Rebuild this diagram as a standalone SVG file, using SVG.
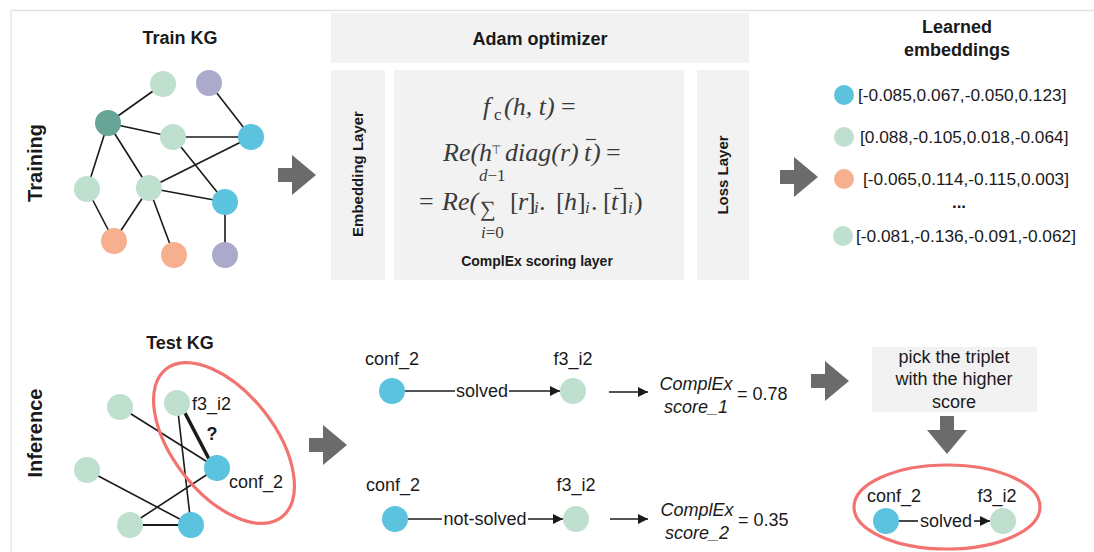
<svg xmlns="http://www.w3.org/2000/svg" width="1094" height="552" viewBox="0 0 1094 552">
  <style>
    .t { font-family: "Liberation Sans", Arial, sans-serif; fill: #1a1a1a; }
    .b { font-weight: bold; }
    .m { font-family: "Liberation Serif", "Times New Roman", serif; font-style: italic; fill: #3a3a3a; font-size: 26px; }
    .mu { font-family: "Liberation Serif", "Times New Roman", serif; fill: #3a3a3a; font-size: 26px; }
    .ms { font-size: 17px; }
    .bar { stroke: #3a3a3a; stroke-width: 1.2; }
    .panel { fill: #f2f2f2; }
    .edge { stroke: #1a1a1a; stroke-width: 1.6; fill: none; }
    .lg { fill: #bfe0cf; }
    .bl { fill: #5bc3de; }
    .dg { fill: #67a597; }
    .pu { fill: #aba9cc; }
    .or { fill: #f6b08f; }
    .big { fill: #6b6b6b; }
    .ring { fill: none; stroke: #f27471; stroke-width: 3.2; }
  </style>
  <defs>
    <marker id="ah" viewBox="0 0 10 10" refX="10" refY="5" markerWidth="10" markerHeight="10" markerUnits="userSpaceOnUse" orient="auto">
      <path d="M0,0 L10,5 L0,10 z" fill="#1a1a1a"/>
    </marker>
    <path id="bigArrow" d="M0,-7 L14,-7 L14,-20 L38,0 L14,20 L14,7 L0,7 z"/>
  </defs>

  <rect width="1094" height="552" fill="#ffffff"/>
  <!-- frame -->
  <line x1="10" y1="10.5" x2="1094" y2="10.5" stroke="#e2e2e2" stroke-width="1.5"/>
  <line x1="11" y1="10" x2="11" y2="552" stroke="#eeeeee" stroke-width="2"/>

  <!-- row labels -->
  <text class="t b" font-size="20" text-anchor="middle" transform="translate(42,163) rotate(-90)">Training</text>
  <text class="t b" font-size="20" text-anchor="middle" transform="translate(42,433) rotate(-90)">Inference</text>

  <!-- ===== training knowledge graph ===== -->
  <g id="train-kg">
    <text class="t b" font-size="18" x="180" y="44" text-anchor="middle">Train KG</text>
    <g class="edge">
      <line x1="108" y1="123" x2="163" y2="84"/>
      <line x1="108" y1="123" x2="173" y2="137"/>
      <line x1="108" y1="123" x2="87" y2="189"/>
      <line x1="108" y1="123" x2="149" y2="188"/>
      <line x1="173" y1="137" x2="251" y2="137"/>
      <line x1="209" y1="83" x2="251" y2="137"/>
      <line x1="173" y1="137" x2="225" y2="202"/>
      <line x1="251" y1="137" x2="149" y2="188"/>
      <line x1="149" y1="188" x2="225" y2="202"/>
      <line x1="87" y1="189" x2="114" y2="241"/>
      <line x1="149" y1="188" x2="114" y2="241"/>
      <line x1="149" y1="188" x2="174" y2="255"/>
      <line x1="225" y1="202" x2="225" y2="255"/>
    </g>
    <circle class="lg" cx="163" cy="84" r="13"/>
    <circle class="pu" cx="209" cy="83" r="13"/>
    <circle class="dg" cx="108" cy="123" r="13"/>
    <circle class="lg" cx="173" cy="137" r="13"/>
    <circle class="bl" cx="251" cy="137" r="13"/>
    <circle class="lg" cx="87" cy="189" r="13"/>
    <circle class="lg" cx="149" cy="188" r="13"/>
    <circle class="bl" cx="225" cy="202" r="13"/>
    <circle class="or" cx="114" cy="241" r="13"/>
    <circle class="or" cx="174" cy="255" r="13"/>
    <circle class="pu" cx="225" cy="255" r="13"/>
  </g>

  <!-- ===== model ===== -->
  <g id="optimizer">
    <rect class="panel" x="331" y="13" width="418" height="50"/>
    <text class="t b" font-size="18" x="540" y="45" text-anchor="middle">Adam optimizer</text>
  </g>
  <g id="embedding-layer">
    <rect class="panel" x="331" y="70" width="54" height="210"/>
    <text class="t b" font-size="15" text-anchor="middle" transform="translate(363,174) rotate(-90)">Embedding Layer</text>
  </g>
  <g id="scoring-layer">
    <rect class="panel" x="394" y="70" width="290" height="210"/>
    <!-- f_c(h,t) = -->
    <text class="m" x="483" y="115">f</text>
    <text class="mu ms" x="494" y="120">c</text>
    <text class="m" x="504" y="115">(h, t)</text>
    <text class="mu" x="561" y="115">=</text>
    <!-- Re(h^T diag(r) conj(t)) = -->
    <text class="m" x="443" y="161">Re(h</text>
    <text class="mu" style="font-size:12px" x="491" y="154">⊤</text>
    <text class="m" x="505" y="161">diag(r)</text>
    <text class="m" x="584" y="161">t</text>
    <line class="bar" x1="586" y1="139.5" x2="596" y2="139.5"/>
    <text class="m" x="592" y="161">)</text>
    <text class="mu" x="606" y="161">=</text>
    <text class="m ms" x="479" y="181">d<tspan font-style="normal">−1</tspan></text>
    <!-- = Re(sum [r]_i . [h]_i . [conj t]_i) -->
    <text class="mu" x="419" y="210">=</text>
    <text class="m" x="442" y="210">Re(</text>
    <text class="mu" style="font-size:22px" x="480" y="216">∑</text>
    <text class="mu" x="510" y="210">[</text>
    <text class="m" x="518" y="210">r</text>
    <text class="mu" x="527" y="210">]</text>
    <text class="m ms" x="534" y="213">i</text>
    <text class="mu" x="539" y="210">.</text>
    <text class="mu" x="556" y="210">[</text>
    <text class="m" x="564" y="210">h</text>
    <text class="mu" x="577" y="210">]</text>
    <text class="m ms" x="585" y="213">i</text>
    <text class="mu" x="591" y="210">.</text>
    <text class="mu" x="603" y="210">[</text>
    <text class="m" x="611" y="210">t</text>
    <line class="bar" x1="614" y1="188.5" x2="623" y2="188.5"/>
    <text class="mu" x="619" y="210">]</text>
    <text class="m ms" x="628" y="213">i</text>
    <text class="mu" x="634" y="210">)</text>
    <text class="m ms" x="481" y="238">i<tspan font-style="normal">=0</tspan></text>
    <text class="t b" font-size="14" x="537" y="266" text-anchor="middle">ComplEx scoring layer</text>
  </g>
  <g id="loss-layer">
    <rect class="panel" x="697" y="70" width="52" height="210"/>
    <text class="t b" font-size="15" text-anchor="middle" transform="translate(728,175) rotate(-90)">Loss Layer</text>
  </g>

  <!-- ===== learned embeddings ===== -->
  <g id="learned-embeddings">
    <text class="t b" font-size="18" x="957" y="33" text-anchor="middle">Learned</text>
    <text class="t b" font-size="18" x="957" y="56" text-anchor="middle">embeddings</text>
    <circle class="bl" cx="844" cy="95" r="10"/>
    <text class="t" font-size="17.3" x="858" y="101">[-0.085,0.067,-0.050,0.123]</text>
    <circle class="lg" cx="844" cy="137" r="10"/>
    <text class="t" font-size="17.3" x="860" y="143">[0.088,-0.105,0.018,-0.064]</text>
    <circle class="or" cx="844" cy="179" r="10"/>
    <text class="t" font-size="17.3" x="863" y="185">[-0.065,0.114,-0.115,0.003]</text>
    <text class="t b" font-size="17" x="959" y="208" text-anchor="middle">...</text>
    <circle class="lg" cx="843" cy="236" r="10"/>
    <text class="t" font-size="17.3" x="856" y="242">[-0.081,-0.136,-0.091,-0.062]</text>
  </g>

  <!-- ===== test knowledge graph ===== -->
  <g id="test-kg">
    <text class="t b" font-size="18" x="180" y="349" text-anchor="middle">Test KG</text>
    <g class="edge">
      <line x1="120" y1="407" x2="217" y2="468"/>
      <line x1="87" y1="470" x2="191" y2="525"/>
      <line x1="177" y1="403" x2="191" y2="525"/>
      <line x1="130" y1="525" x2="217" y2="468"/>
      <line x1="130" y1="525" x2="191" y2="525" stroke-width="2.2"/>
      <line x1="185" y1="413" x2="209" y2="459" stroke-width="3.5"/>
    </g>
    <circle class="lg" cx="120" cy="407" r="13"/>
    <circle class="lg" cx="177" cy="403" r="13"/>
    <circle class="lg" cx="87" cy="470" r="13"/>
    <circle class="bl" cx="217" cy="468" r="13"/>
    <circle class="lg" cx="130" cy="525" r="13"/>
    <circle class="bl" cx="191" cy="525" r="13"/>
    <text class="t b" font-size="18" x="212" y="440" text-anchor="middle">?</text>
    <text class="t" font-size="18" x="192" y="410">f3_i2</text>
    <text class="t" font-size="18" x="229" y="488">conf_2</text>
    <ellipse class="ring" cx="224" cy="443" rx="94" ry="51" transform="rotate(52 224 443)"/>
  </g>

  <!-- ===== candidate triplets ===== -->
  <g id="triplet-solved">
    <text class="t" font-size="18" x="392" y="365" text-anchor="middle">conf_2</text>
    <circle class="bl" cx="392" cy="391" r="13"/>
    <text class="t" font-size="18" x="482" y="397" text-anchor="middle">solved</text>
    <text class="t" font-size="18" x="573" y="365" text-anchor="middle">f3_i2</text>
    <circle class="lg" cx="573" cy="391" r="13"/>
  </g>
  <g id="score-1">
    <text class="t" font-size="18" font-style="italic" x="696" y="390" text-anchor="middle">ComplEx</text>
    <text class="t" font-size="18" font-style="italic" x="696" y="413" text-anchor="middle">score_1</text>
    <text class="t" font-size="18" x="737" y="400">= 0.78</text>
  </g>
  <g id="triplet-not-solved">
    <text class="t" font-size="18" x="393" y="491" text-anchor="middle">conf_2</text>
    <circle class="bl" cx="395" cy="519" r="13"/>
    <text class="t" font-size="18" x="485" y="525" text-anchor="middle">not-solved</text>
    <text class="t" font-size="18" x="576" y="491" text-anchor="middle">f3_i2</text>
    <circle class="lg" cx="576" cy="519" r="13"/>
  </g>
  <g id="score-2">
    <text class="t" font-size="18" font-style="italic" x="697" y="516" text-anchor="middle">ComplEx</text>
    <text class="t" font-size="18" font-style="italic" x="697" y="539" text-anchor="middle">score_2</text>
    <text class="t" font-size="18" x="738" y="526">= 0.35</text>
  </g>

  <!-- ===== selection ===== -->
  <g id="pick-box">
    <rect class="panel" x="872" y="347" width="165" height="65"/>
    <text class="t" font-size="18" fill="#2a2a2a" x="954" y="363" text-anchor="middle">pick the triplet</text>
    <text class="t" font-size="18" fill="#2a2a2a" x="954" y="385" text-anchor="middle">with the higher</text>
    <text class="t" font-size="18" fill="#2a2a2a" x="954" y="408" text-anchor="middle">score</text>
  </g>
  <g id="selected-triplet">
    <ellipse class="ring" cx="947" cy="507" rx="93" ry="42"/>
    <text class="t" font-size="18" x="894" y="502" text-anchor="middle">conf_2</text>
    <circle class="bl" cx="886" cy="521" r="13"/>
    <text class="t" font-size="18" x="946" y="527" text-anchor="middle">solved</text>
    <text class="t" font-size="18" x="997" y="502" text-anchor="middle">f3_i2</text>
    <circle class="lg" cx="1003" cy="521" r="13"/>
  </g>

  <!-- ===== connectors ===== -->
  <g id="connectors">
    <use href="#bigArrow" class="big" transform="translate(278,175)"/>
    <use href="#bigArrow" class="big" transform="translate(780,177)"/>
    <use href="#bigArrow" class="big" transform="translate(309,445)"/>
    <use href="#bigArrow" class="big" transform="translate(811,381)"/>
    <use href="#bigArrow" class="big" transform="translate(947,416) rotate(90)"/>
    <g class="edge">
      <line x1="405" y1="391" x2="455" y2="391"/>
      <line x1="509" y1="391" x2="560" y2="391" marker-end="url(#ah)"/>
      <line x1="609" y1="392" x2="648" y2="392" marker-end="url(#ah)"/>
      <line x1="408" y1="519" x2="442" y2="519"/>
      <line x1="528" y1="519" x2="563" y2="519" marker-end="url(#ah)"/>
      <line x1="610" y1="519" x2="648" y2="519" marker-end="url(#ah)"/>
      <line x1="899" y1="521" x2="918" y2="521"/>
      <line x1="974" y1="521" x2="990" y2="521" marker-end="url(#ah)"/>
    </g>
  </g>
</svg>
